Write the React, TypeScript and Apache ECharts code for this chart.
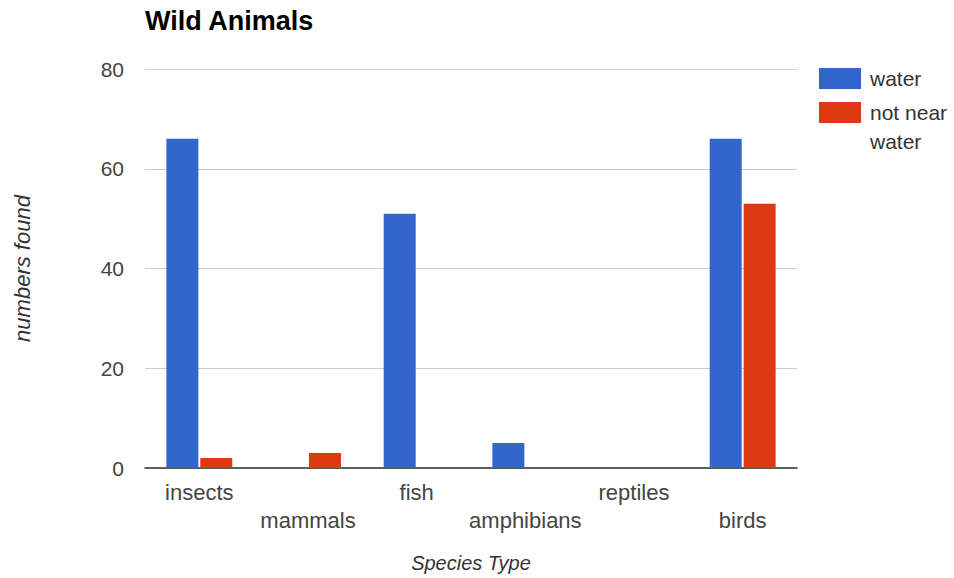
import React, { useEffect, useRef } from "react";
import * as echarts from "echarts";

const categories = ["insects", "mammals", "fish", "amphibians", "reptiles", "birds"];
const waterValues = [66, 0, 51, 5, 0, 66];
const notNearWaterValues = [2, 3, 0, 0, 0, 53];
const yTicks = [0, 20, 40, 60, 80];

const FONT = "'Liberation Sans', Arial, sans-serif";

export default function App() {
  const ref = useRef<HTMLDivElement>(null);
  useEffect(() => {
    document.body.style.margin = "0";
    const chart = echarts.init(ref.current!, null, { renderer: "svg" });
    chart.setOption({
      animation: false,
      textStyle: { fontFamily: FONT },
      title: {
        text: "Wild Animals",
        left: 140,
        top: 2,
        textStyle: { fontSize: 27, fontWeight: "bold", color: "#000", fontFamily: FONT },
      },
      legend: {
        orient: "vertical",
        left: 814,
        top: 59,
        itemWidth: 42,
        itemHeight: 21,
        itemGap: -24,
        icon: "rect",
        textStyle: { fontSize: 21, color: "#333", lineHeight: 29, fontFamily: FONT, padding: [0, 0, 0, 4] },
        formatter: (name: string) => (name === "not near water" ? "\nnot near\nwater" : name),
        data: ["water", "not near water"],
      },
      grid: { left: 145, top: 69, width: 652, height: 401 },
      xAxis: {
        type: "category",
        data: categories,
        name: "Species Type",
        nameLocation: "middle",
        nameGap: 85,
        nameTextStyle: { fontStyle: "italic", fontSize: 20, color: "#333", fontFamily: FONT },
        axisLine: { lineStyle: { color: "#333", width: 1.5 } },
        axisTick: { show: false },
        axisLabel: {
          interval: 0,
          margin: 10,
          fontSize: 22,
          color: "#444",
          lineHeight: 28,
          formatter: (v: string, i: number) => (i % 2 === 1 ? "\n" + v : v),
        },
      },
      yAxis: {
        type: "value",
        min: yTicks[0],
        max: yTicks[yTicks.length - 1],
        interval: 20,
        name: "numbers found",
        nameLocation: "middle",
        nameGap: 112,
        nameRotate: 90,
        nameTextStyle: { fontStyle: "italic", fontSize: 22, color: "#333", fontFamily: FONT },
        axisLine: { show: false },
        axisTick: { show: false },
        axisLabel: { margin: 21, fontSize: 21, color: "#444" },
        splitLine: { lineStyle: { color: "#ccc" } },
      },
      series: [
        {
          name: "water",
          type: "bar",
          data: waterValues,
          barWidth: 32,
          barGap: "6%",
          itemStyle: { color: "#3366cc" },
        },
        {
          name: "not near water",
          type: "bar",
          data: notNearWaterValues,
          barWidth: 32,
          itemStyle: { color: "#dc3912" },
        },
      ],
    });
    return () => chart.dispose();
  }, []);
  return <div ref={ref} style={{ width: 954, height: 578 }} />;
}
